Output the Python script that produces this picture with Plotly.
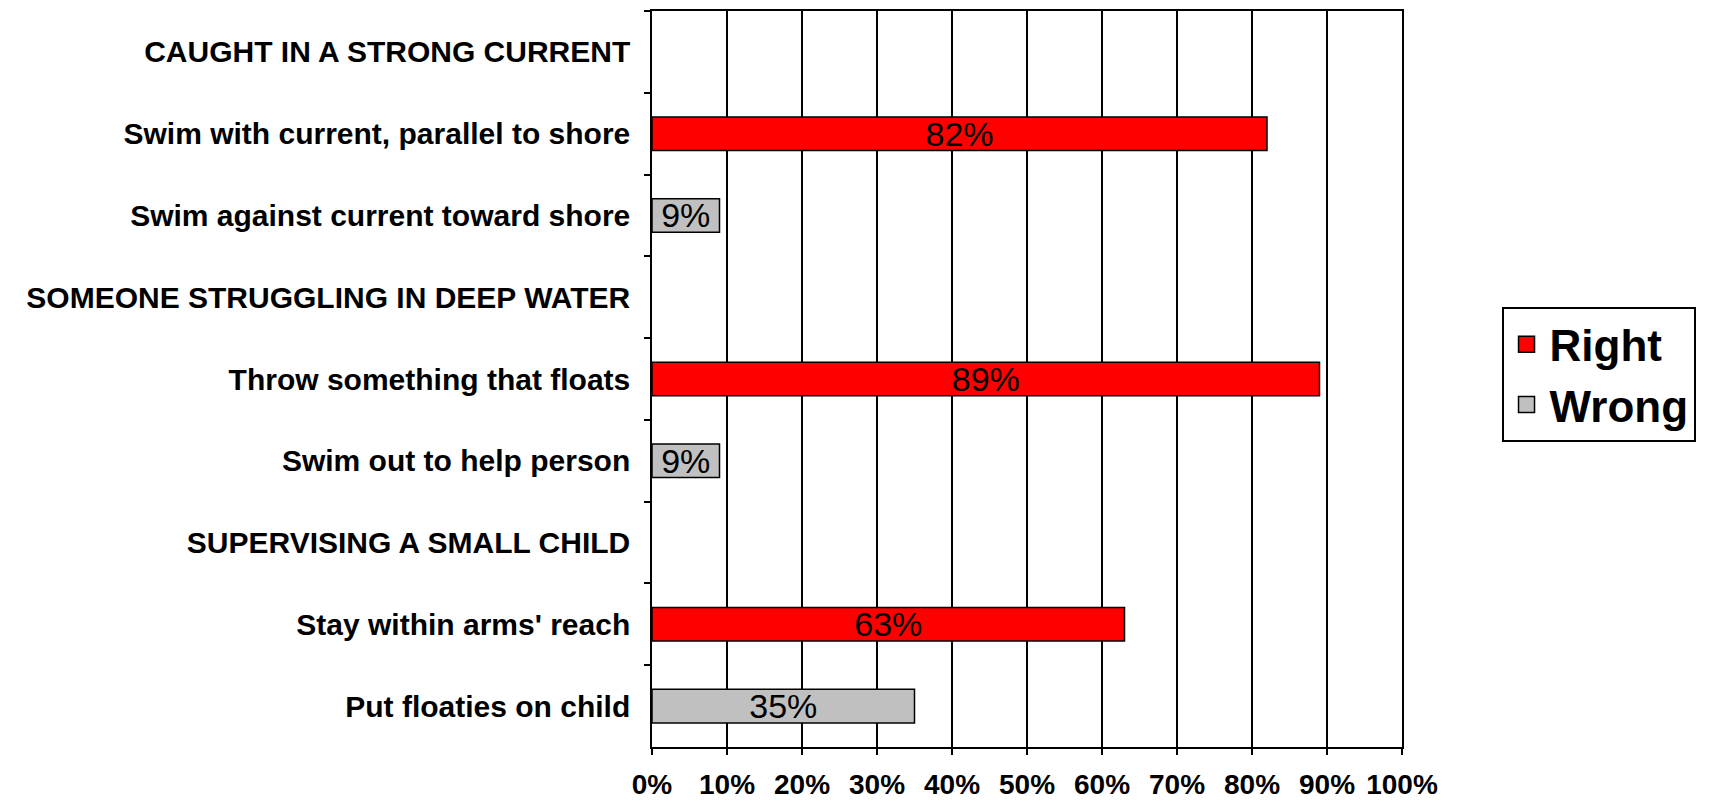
import plotly.graph_objects as go

categories = [
    "CAUGHT IN A STRONG CURRENT",
    "Swim with current, parallel to shore",
    "Swim against current toward shore",
    "SOMEONE STRUGGLING IN DEEP WATER",
    "Throw something that floats",
    "Swim out to help person",
    "SUPERVISING A SMALL CHILD",
    "Stay within arms' reach",
    "Put floaties on child",
]
right_values = [None, 82, None, None, 89, None, None, 63, None]
wrong_values = [None, None, 9, None, None, 9, None, None, 35]
x_ticks = [0, 10, 20, 30, 40, 50, 60, 70, 80, 90, 100]

series = [("Right", right_values, "#ff0000"), ("Wrong", wrong_values, "#c0c0c0")]

FONT = "Liberation Sans, Arial, sans-serif"

def labels(vals):
    return [f"{v}%" if v is not None else "" for v in vals]

fig = go.Figure()
for name, vals, color in series:
    fig.add_trace(go.Bar(
        y=categories, x=vals, orientation="h", name=name, showlegend=False,
        marker=dict(color=color, line=dict(color="black", width=1.5)),
        text=labels(vals), textposition="inside", insidetextanchor="middle",
        textfont=dict(family=FONT, size=34, color="black"), constraintext="none",
        width=0.41,
    ))
for name, vals, color in series:
    fig.add_trace(go.Scatter(
        x=[None], y=[None], mode="markers", name=name, showlegend=True,
        marker=dict(symbol="square", size=20, color=color, line=dict(color="black", width=1.5)),
    ))

fig.update_layout(
    width=1703, height=793,
    margin=dict(l=644, r=309, t=1, b=52),
    barmode="overlay",
    plot_bgcolor="white", paper_bgcolor="white",
    font=dict(family=FONT, color="black"),
    showlegend=True,
    legend=dict(
        x=1.1327, y=0.506, xanchor="left", yanchor="middle",
        bordercolor="black", borderwidth=2,
        font=dict(family=FONT, size=44, weight="bold", color="black"),
        itemwidth=36, tracegroupgap=0,
    ),
)
fig.update_xaxes(
    range=[0, 100], tickvals=x_ticks, ticktext=[f"{t}%" for t in x_ticks],
    showgrid=True, gridcolor="black", gridwidth=1.5,
    showline=True, linecolor="black", linewidth=1.5, mirror=True,
    ticks="outside", ticklen=6, tickcolor="black", tickwidth=1.5,
    tickfont=dict(family=FONT, size=28, weight="bold", color="black"),
    ticklabelstandoff=6,
    zeroline=False, fixedrange=True,
)
fig.update_yaxes(
    categoryorder="array", categoryarray=categories, autorange="reversed",
    tickson="boundaries", ticks="outside", ticklen=6, tickcolor="black", tickwidth=1.5,
    showgrid=False, showline=True, linecolor="black", linewidth=1.5, mirror=True,
    tickfont=dict(family=FONT, size=30, weight="bold", color="black"),
    ticklabelstandoff=14,
)

fig.write_html("out.html")
